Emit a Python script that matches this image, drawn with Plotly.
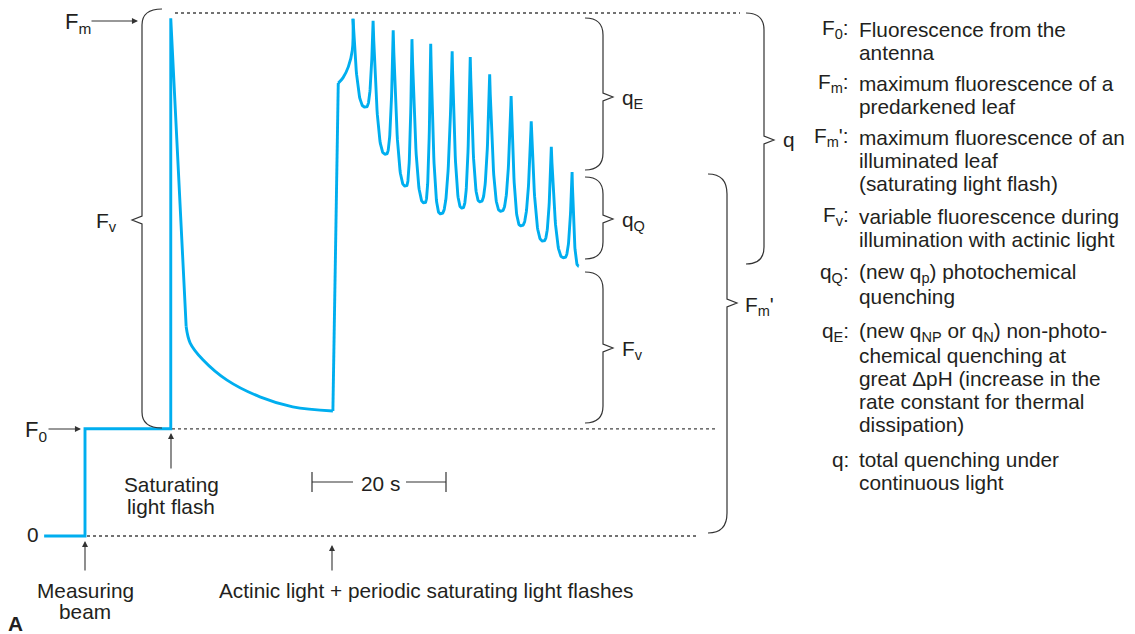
import numpy as np
import plotly.graph_objects as go

# trace of chlorophyll fluorescence: time in s, fluorescence relative to Fm = 100
F0 = 20.5
FM = 100.0
# dark-adapted part: measuring beam on, saturating flash
step_t = [-6.1, 0.0, 0.0, 12.8, 12.8, 15.1]
step_f = [0.0, 0.0, 20.5, 20.5, 99.0, 40.0]
# relaxation after the flash
decay_t = [15.1, 15.7, 17.6, 21.2, 26.1, 31.0, 37.0]
decay_f = [40.0, 36.9, 33.7, 29.8, 26.6, 24.7, 23.9]
# actinic light switched on
rise_t = [37.0, 37.8, 38.5, 39.3, 39.9, 40.0]
rise_f = [23.9, 86.6, 87.6, 89.7, 92.9, 98.9]

# saturating flashes under actinic light: peaks (Fm') and minima between them
peak_t = [40.0, 43.0, 46.0, 48.8, 51.6, 54.8, 57.5, 60.4, 63.6, 66.6, 69.6, 72.7]
peak_f = [98.9, 98.5, 96.7, 95.0, 94.1, 92.7, 91.6, 88.3, 84.1, 79.3, 74.4, 69.6]
trough_t = [41.9, 44.9, 47.9, 50.7, 53.1, 56.3, 59.0, 62.1, 65.1, 68.4, 71.5, 73.7]
trough_f = [82.0, 73.0, 66.9, 63.7, 61.6, 62.7, 63.9, 62.1, 59.3, 56.4, 53.2, 51.6]

legend_labels = ["F<sub>0</sub>:", "F<sub>m</sub>:", "F<sub>m</sub>':", "F<sub>v</sub>:",
                 "q<sub>Q</sub>:", "q<sub>E</sub>:", "q:"]
legend_lines = [
    ["Fluorescence from the", "antenna"],
    ["maximum fluorescence of a", "predarkened leaf"],
    ["maximum fluorescence of an", "illuminated leaf", "(saturating light flash)"],
    ["variable fluorescence during", "illumination with actinic light"],
    ["(new q<sub>p</sub>) photochemical", "quenching"],
    ["(new q<sub>NP</sub> or q<sub>N</sub>) non-photo-", "chemical quenching at",
     "great \u0394pH (increase in the", "rate constant for thermal", "dissipation)"],
    ["total quenching under", "continuous light"],
]

W, H = 1135, 634
FONT = "Liberation Sans, Arial, sans-serif"
INK = "#231f20"
BLUE = "#00aeef"
FS = 20.8


# page pixel -> data units (layout helpers only)
def X(px):
    return (px - 85) / 6.7


def Y(py):
    return (536 - py) / 5.23


# flash part of the trace: cusp shape between peaks and minima
ft, ff = [], []
u = np.linspace(0, 1, 40)
for i in range(len(peak_t)):
    ft += list(peak_t[i] + (trough_t[i] - peak_t[i]) * u)
    ff += list(trough_f[i] + (peak_f[i] - trough_f[i]) * (1 - u) ** 3)
    if i + 1 < len(peak_t):
        ft += list(trough_t[i] + (peak_t[i + 1] - trough_t[i]) * u[1:])
        ff += list(trough_f[i] + (peak_f[i + 1] - trough_f[i]) * u[1:] ** 3)

fig = go.Figure()
line = dict(color=BLUE, width=2.9)
for xs, ys, shp in [(step_t, step_f, "linear"), (decay_t, decay_f, "spline"),
                    (rise_t[:2], rise_f[:2], "linear"), (rise_t[1:], rise_f[1:], "spline"),
                    (ft, ff, "linear")]:
    fig.add_trace(go.Scatter(x=xs, y=ys, mode="lines", line=dict(line, shape=shp),
                             hoverinfo="skip", showlegend=False))

shapes = []
# dotted reference levels
for f, x0, x1 in [(FM, 175, 740), (F0, 172, 716), (0, 87, 697)]:
    shapes.append(dict(type="line", x0=X(x0), x1=X(x1), y0=f, y1=f,
                       line=dict(color="#444", width=1.3, dash="dot")))


def brace(xv, ytop, ybot, ytip, side, w=18, r=17, tip=10, h=4):
    s = 1 if side == "right" else -1
    p = [("M", xv - s * w, ytop), ("Q", xv, ytop, xv, ytop + r), ("L", xv, ytip - h),
         ("L", xv + s * tip, ytip), ("L", xv, ytip + h), ("L", xv, ybot - r),
         ("Q", xv, ybot, xv - s * w, ybot)]
    out = []
    for seg in p:
        c = seg[1:]
        pts = " ".join(f"{X(c[k]):.4f},{Y(c[k + 1]):.4f}" for k in range(0, len(c), 2))
        out.append(f"{seg[0]} {pts}")
    return dict(type="path", path=" ".join(out), line=dict(color="#333", width=1.2))


shapes += [
    brace(142, 9, 428, 220, "left", w=20, r=16),
    brace(603, 18, 170, 97, "right"),
    brace(603, 177, 259, 219, "right"),
    brace(603, 272, 423, 348, "right"),
    brace(764, 13, 264, 140, "right"),
    brace(727, 174, 533, 303, "right", w=19, r=20),
]

# 20 s scale bar
bar_t0 = X(312)
bar_y = Y(482)
for a, b in [(bar_t0, X(353)), (X(406), bar_t0 + 20)]:
    shapes.append(dict(type="line", x0=a, x1=b, y0=bar_y, y1=bar_y, line=dict(color="#333", width=1.2)))
for t in [bar_t0, bar_t0 + 20]:
    shapes.append(dict(type="line", x0=t, x1=t, y0=Y(472), y1=Y(492), line=dict(color="#333", width=1.2)))

ann = []


def text(px, py, s, size=FS, anchor="center", bold=False):
    ann.append(dict(x=X(px), y=Y(py), text=f"<b>{s}</b>" if bold else s, showarrow=False,
                    xanchor=anchor, yanchor="middle", font=dict(family=FONT, size=size, color=INK)))


def arrow(px, py, dx, dy):
    ann.append(dict(x=X(px), y=Y(py), ax=dx, ay=dy, text="", showarrow=True, arrowhead=2,
                    arrowsize=1.1, arrowwidth=1.1, arrowcolor="#333"))


arrow(138, 21, -48, 0)
arrow(81, 429, -34, 0)
arrow(85, 541, 0, 31)
arrow(171, 433, 0, 37)
arrow(332, 545, 0, 27)

text(78, 23, "F<sub>m</sub>", size=22)
text(36, 431, "F<sub>0</sub>", size=22)
text(33, 534, "0")
text(106, 222, "F<sub>v</sub>", size=21)
text(171, 484, "Saturating")
text(171, 506, "light flash")
text(85, 590, "Measuring")
text(85, 611, "beam")
text(426, 590, "Actinic light + periodic saturating light flashes")
text(380, 483, "20 s")
text(15, 623, "A", bold=True)
text(620, 99, "q<sub>E</sub>", anchor="left")
text(620, 221, "q<sub>Q</sub>", anchor="left")
text(620, 350, "F<sub>v</sub>", anchor="left")
text(781, 139, "q", anchor="left")
text(743, 306, "F<sub>m</sub>'", anchor="left")

# explanation block on the right
block_base = [35, 89, 143, 222, 279, 338, 465]
for lab, lines, yb in zip(legend_labels, legend_lines, block_base):
    text(851, yb - 6, lab, anchor="right")
    for k, s in enumerate(lines):
        text(857, yb - 6 + 23 * k, s, anchor="left")

fig.update_layout(
    width=W, height=H, margin=dict(l=0, r=0, t=0, b=0),
    paper_bgcolor="white", plot_bgcolor="white",
    xaxis=dict(range=[X(0), X(W)], visible=False, fixedrange=True),
    yaxis=dict(range=[Y(H), Y(0)], visible=False, fixedrange=True),
    shapes=shapes, annotations=ann, showlegend=False,
)
fig.write_html("out.html", config={"displayModeBar": False},
               post_script="document.body.style.margin='0px';")
